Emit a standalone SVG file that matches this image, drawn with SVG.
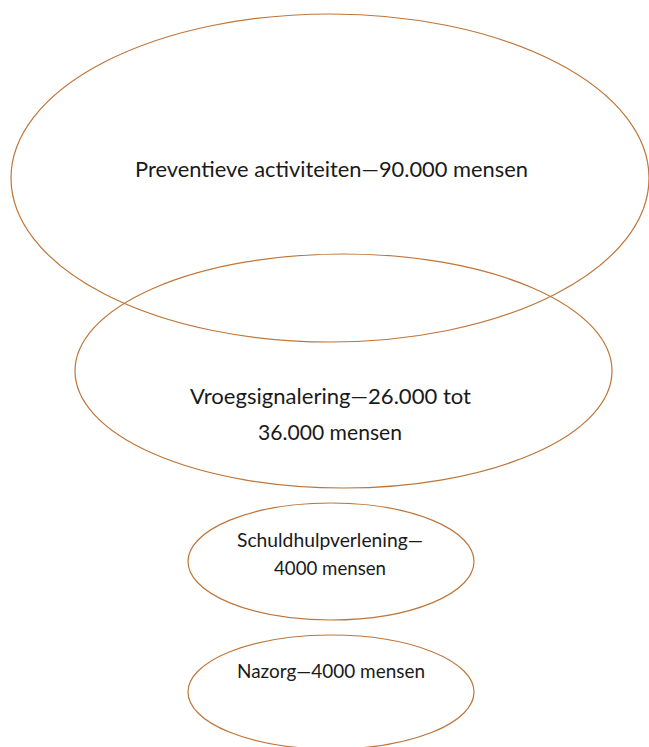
<svg xmlns="http://www.w3.org/2000/svg" width="649" height="747" viewBox="0 0 649 747">
<style>
.node ellipse { fill: none; stroke: #BD763A; stroke-width: 1.2; }
.node text { font-family: Lato, "Liberation Sans", Arial, sans-serif; fill: #1a1a1a; text-anchor: middle; }
.big { font-size: 21.6px; }
.small { font-size: 18.4px; }
</style>
<rect width="649" height="747" fill="#ffffff"/>
<g id="connectors"></g>
<g id="preventie" class="node">
  <ellipse cx="330" cy="178" rx="319" ry="164"/>
  <text class="big" x="331.5" y="177" textLength="393" lengthAdjust="spacingAndGlyphs">Preventieve activiteiten—90.000 mensen</text>
</g>
<g id="vroegsignalering" class="node">
  <ellipse cx="343.5" cy="371" rx="268.5" ry="117"/>
  <text class="big" x="330.5" y="404" textLength="281" lengthAdjust="spacingAndGlyphs">Vroegsignalering—26.000 tot</text>
  <text class="big" x="330" y="440" textLength="144" lengthAdjust="spacingAndGlyphs">36.000 mensen</text>
</g>
<g id="schuldhulpverlening" class="node">
  <ellipse cx="331" cy="561.5" rx="143" ry="58.5"/>
  <text class="small" x="330" y="547" textLength="186" lengthAdjust="spacingAndGlyphs">Schuldhulpverlening—</text>
  <text class="small" x="330" y="575" textLength="112" lengthAdjust="spacingAndGlyphs">4000 mensen</text>
</g>
<g id="nazorg" class="node">
  <ellipse cx="331" cy="692" rx="143" ry="57"/>
  <text class="small" x="331" y="678" textLength="188" lengthAdjust="spacingAndGlyphs">Nazorg—4000 mensen</text>
</g>
</svg>
